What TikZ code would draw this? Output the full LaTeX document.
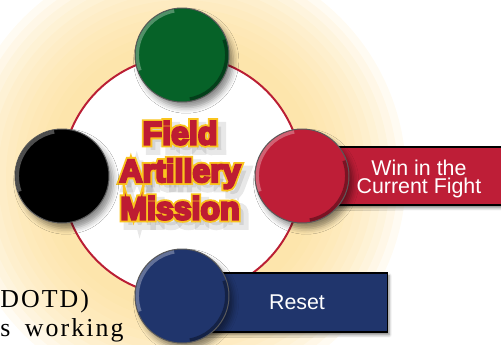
\documentclass[tikz,border=0pt]{standalone}
\usepackage{fontspec}
\setmainfont{Liberation Serif}
\setsansfont{Liberation Sans}
\newfontfamily\bodyserif[LetterSpace=8,WordSpace=1.7]{Liberation Serif}
\usetikzlibrary{positioning,shadows.blur}

\definecolor{faglow}{RGB}{253,222,150}
\definecolor{faring}{RGB}{186,30,52}
\definecolor{fagreen}{RGB}{6,98,40}
\definecolor{fared}{RGB}{190,30,55}
\definecolor{fablue}{RGB}{32,53,108}
\definecolor{facrimson}{RGB}{190,28,50}
\definecolor{fagold}{RGB}{250,196,30}

\tikzset{
  disc/.style={circle, minimum size=2.35cm, inner sep=0pt, draw=black!65, line width=0.7pt,
    blur shadow={shadow xshift=3pt, shadow yshift=-4pt, shadow blur radius=4pt, shadow opacity=45},
    path picture={
      \draw[white, opacity=0.3, line width=2.5pt] ([shift={(100:1.12cm)}]path picture bounding box.center) arc (100:200:1.12cm);
      \draw[black, opacity=0.35, line width=2.5pt] ([shift={(-80:1.12cm)}]path picture bounding box.center) arc (-80:20:1.12cm);
    }},
  bar/.style={rectangle, draw=black, line width=1pt, inner sep=0pt, anchor=west,
    blur shadow={shadow xshift=1pt, shadow yshift=-2pt, shadow blur radius=2pt, shadow opacity=50}},
  bartext/.style={text=white, font=\sffamily\fontsize{15.2}{13}\selectfont, align=center, inner sep=0pt},
  fatext/.style={font=\sffamily\bfseries\fontsize{22.8}{26.7}\selectfont, align=center, inner sep=0pt},
  % glyphs filled and stroked, so the letters grow by half the width
  heavy/.style={execute at begin node={\special{pdf:literal direct 2 Tr #1 w}},
    execute at end node={\special{pdf:literal direct 0 Tr}}},
  bodytext/.style={font=\bodyserif\fontsize{18.4}{20}\selectfont, anchor=base west, inner sep=0pt}
}

\begin{document}
\begin{tikzpicture}
    \useasboundingbox (-4.55, -4.2) rectangle (7.975, 4.4);
    \clip (-4.55, -4.2) rectangle (7.975, 4.4);

    % Glow behind the ring
    \foreach \r in {5.6,5.4,...,3.2}
        \fill[faglow, opacity=0.12] (0, 0) circle (\r);

    % Page text running under the picture
    \node[bodytext] (dotd) at (-4.55, -3.275) {DOTD)};
    \node[bodytext] (working) at (-4.55, -4.0) {s working};

    % Ring
    \node[circle, draw=faring, fill=white, line width=1.4pt, minimum size=6cm, inner sep=0pt, outer sep=0pt] (ring) at (0, 0) {};

    % Title: soft shadow, gold edge, crimson letters
    \node[fatext, heavy=7, text=black, opacity=0.09] (missionshadow) at (0.1, 0.0) {Field\\Artillery\\Mission};
    \node[fatext, heavy=4.2, text=fagold] (missionedge) at (-0.05, 0.1375) {Field\\Artillery\\Mission};
    \node[fatext, heavy=1.6, text=facrimson] (mission) at (-0.05, 0.1375) {Field\\Artillery\\Mission};

    % Bars
    \node[bar, fill=fared, minimum width=4.98cm, minimum height=1.45cm] (winbar) at (ring.east) {};
    \node[bar, fill=fablue, minimum width=5.125cm, minimum height=1.475cm] (resetbar) at ([yshift=-0.1625cm]ring.south) {};

    % Discs on the ring
    \node[disc, fill=fagreen] (green) at ([yshift=0.025cm]ring.north) {};
    \node[disc, fill=black] (black) at (ring.west) {};
    \node[disc, fill=fared] (red) at (ring.east) {};
    \node[disc, fill=fablue] (blue) at (ring.south) {};

    % Bar labels
    \node[bartext] (winlbl) at (5.925, -0.07) {Win in the\\Current Fight};
    \node[bartext] (resetlbl) at (2.875, -3.15) {Reset};
\end{tikzpicture}
\end{document}
